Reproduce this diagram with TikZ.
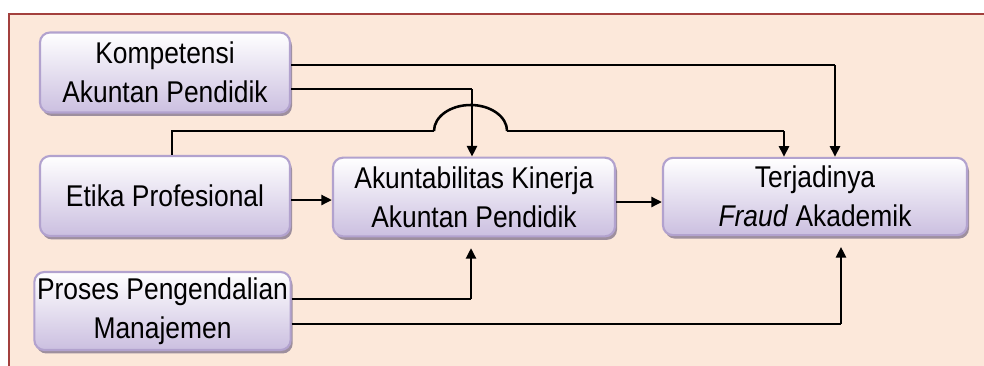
\documentclass[tikz,border=0pt]{standalone}
\usepackage{fontspec}
\setmainfont{Liberation Sans}[FakeStretch=0.88]
\usetikzlibrary{arrows.meta,shadows,calc}
\definecolor{framefill}{HTML}{FCE8DA}
\definecolor{frameline}{HTML}{A3403D}
\definecolor{boxline}{HTML}{B2A2CE}
\definecolor{boxbottom}{HTML}{CBBFE0}
\definecolor{boxshadow}{HTML}{9E8F9E}
\begin{document}
\begin{tikzpicture}[x=0.75pt,y=-0.75pt,
  box/.style={rectangle, rounded corners=7.5pt, draw=boxline, line width=1.6pt,
    top color=white, bottom color=boxbottom, align=center, inner sep=2pt,
    font=\fontsize{22.5pt}{29pt}\selectfont,
    drop shadow={shadow xshift=1.5pt, shadow yshift=-2.6pt, fill=boxshadow, opacity=1}},
  wire/.style={line width=0.9pt, black},
  feed/.style={line width=1.9pt, black, -{Triangle[length=8pt,width=7.5pt]}},
]
\useasboundingbox (0,0) rectangle (984,365);
\clip (0,0) rectangle (984,365);
\fill[white] (0,0) rectangle (984,365);
% background panel
\draw[frameline, line width=1.5pt, fill=framefill] (9,14) rectangle (1010,400);

% boxes
\node[box, minimum width=187.5pt, minimum height=60pt] (K) at (165,72.5)
  {Kompetensi\\Akuntan Pendidik};
\node[box, minimum width=187.5pt, minimum height=60pt] (E) at (165,196)
  {Etika Profesional};
\node[box, minimum width=211.5pt, minimum height=59pt] (A) at (474,197)
  {Akuntabilitas Kinerja\\Akuntan Pendidik};
\node[box, minimum width=228pt, minimum height=58pt] (T) at (815,196.5)
  {Terjadinya\\\textit{Fraud} Akademik};
\node[box, minimum width=188.25pt, minimum height=58.5pt] (P) at (162.5,311)
  {Proses Pengendalian\\Manajemen};

% bend points
\coordinate (k1) at (835,65);
\coordinate (k2) at (472,89);
\coordinate (e1) at (172,131);
\coordinate (hopL) at (434,131);
\coordinate (hopR) at (507,131);
\coordinate (e2) at (784,131);
\coordinate (p1) at (471,299);
\coordinate (p2) at (841,324);

% Kompetensi -> Terjadinya
\draw[wire] (K.east |- k1) -- (k1);
\draw[feed] (k1) -- (k1 |- T.north);
% Kompetensi -> Akuntabilitas
\draw[wire] (K.east |- k2) -- (k2);
\draw[feed] (k2) -- (k2 |- A.north);
% Etika -> Terjadinya, hopping over the Kompetensi line
\draw[wire] (E.north -| e1) -- (e1) -- (hopL);
\draw[line width=1.9pt] (hopL) arc[start angle=180, end angle=0, x radius=27.4pt, y radius=19.5pt];
\draw[wire] (hopR) -- (e2);
\draw[feed] (e2) -- (e2 |- T.north);
% Etika -> Akuntabilitas -> Terjadinya
\draw[feed] (E.east |- 0,200) -- (A.west |- 0,200);
\draw[feed] (A.east |- 0,202) -- (T.west |- 0,202);
% Proses -> Akuntabilitas / Terjadinya
\draw[wire] (P.east |- p1) -- (p1);
\draw[feed, shorten >=8pt] (p1) -- (p1 |- A.south);
\draw[wire] (P.east |- p2) -- (p2);
\draw[feed, shorten >=8pt] (p2) -- (p2 |- T.south);
\end{tikzpicture}
\end{document}
